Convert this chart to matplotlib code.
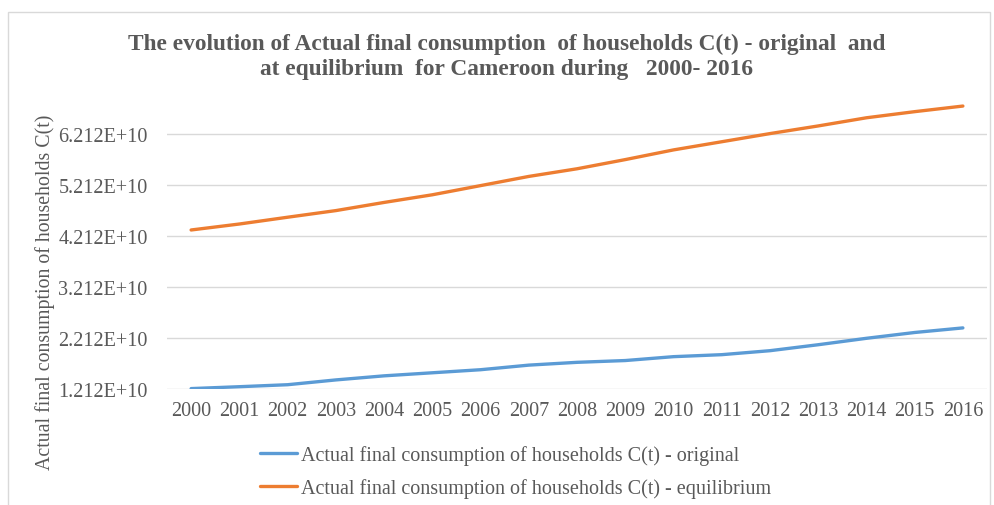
import matplotlib
matplotlib.use("Agg")
import matplotlib.pyplot as plt
import matplotlib.ticker as mticker
from matplotlib.patches import Rectangle

# data
years = [str(y) for y in range(2000, 2017)]
c_original = [1.22e10, 1.257e10, 1.296e10, 1.39e10, 1.47e10, 1.53e10, 1.59e10, 1.68e10,
              1.735e10, 1.77e10, 1.846e10, 1.885e10, 1.963e10, 2.08e10, 2.206e10, 2.32e10, 2.41e10]
c_equilibrium = [4.33e10, 4.447e10, 4.58e10, 4.71e10, 4.87e10, 5.02e10, 5.2e10, 5.38e10,
                 5.53e10, 5.71e10, 5.90e10, 6.06e10, 6.22e10, 6.37e10, 6.53e10, 6.65e10, 6.76e10]
y_ticks = [1.212e10, 2.212e10, 3.212e10, 4.212e10, 5.212e10, 6.212e10]

label_orig = "Actual final consumption of households C(t) - original"
label_eq = "Actual final consumption of households C(t) - equilibrium"
title = ("The evolution of Actual final consumption  of households C(t) - original  and\n"
         "at equilibrium  for Cameroon during   2000- 2016")

plt.rcParams['font.family'] = ['Liberation Serif', 'DejaVu Serif']
grey = '#595959'

fig = plt.figure(figsize=(9.94, 5.06), dpi=100)
# chart area border
fig.patches.append(Rectangle((8 / 994, -0.05), 982 / 994, 1 - 13 / 506 + 0.05,
                             transform=fig.transFigure, fill=False,
                             edgecolor='#D9D9D9', linewidth=1))

ax = fig.add_axes([167 / 994, (506 - 390) / 506, 820 / 994, 300 / 506])
x = range(len(years))
ax.plot(x, c_original, color='#5B9BD5', linewidth=2.4, label=label_orig,
        solid_capstyle='round')
ax.plot(x, c_equilibrium, color='#ED7D31', linewidth=2.4, label=label_eq,
        solid_capstyle='round')

ax.set_xlim(-0.5, len(years) - 0.5)
ax.set_ylim(1.212e10, 1.212e10 + 300 / 51 * 1e10)
ax.set_xticks(list(x))
ax.set_xticklabels(years)
ax.set_yticks(y_ticks)
ax.yaxis.set_major_formatter(mticker.FuncFormatter(lambda v, p: f"{v / 1e10:.3f}E+10"))
ax.tick_params(length=0, labelsize=14.5, colors=grey, pad=9)
ax.tick_params(axis='y', pad=14)
ax.grid(axis='y', color='#D9D9D9', linewidth=1)
ax.set_axisbelow(True)
for s in ax.spines.values():
    s.set_visible(False)

fig.text(45 / 994, 1 - 292 / 506, "Actual final consumption of households C(t)",
         rotation=90, ha='center', va='center', fontsize=14.3, color=grey)
fig.text(507 / 994, 1 - 57 / 506, title, ha='center', va='center', fontsize=16.8,
         fontweight='bold', color=grey, linespacing=1.25)

leg = fig.legend(loc='upper left', bbox_to_anchor=(252 / 994, 1 - 438 / 506),
                 frameon=False, fontsize=14.5, handlelength=1.85, handletextpad=0.2,
                 labelspacing=0.65, borderaxespad=0)
for t in leg.get_texts():
    t.set_color(grey)

fig.savefig("out.png", dpi=100)
